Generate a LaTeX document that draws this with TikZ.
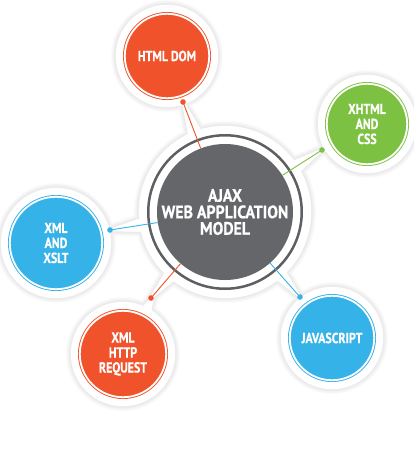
\documentclass[tikz,border=0pt]{standalone}
\usepackage{fontspec}
\usetikzlibrary{calc}
\newfontfamily\labelfont{PT Sans}[FakeStretch=0.82, BoldFeatures={FakeBold=0.6}]
\newfontfamily\hubfont{PT Sans}[FakeStretch=0.88, BoldFeatures={FakeBold=0.6}]

\definecolor{ajaxorange}{HTML}{F0532B}
\definecolor{ajaxgreen}{HTML}{7DC142}
\definecolor{ajaxblue}{HTML}{35B2E7}
\definecolor{ajaxgray}{HTML}{646669}
\definecolor{ajaxring}{HTML}{5D5F63}

\tikzset{
  sat/.style 2 args={circle, fill=#1, draw=#1, line width=0.9pt,
    double=white, double distance=1.8pt, minimum size=#2, inner sep=0pt,
    text=white, align=center,
    font=\labelfont\bfseries\fontsize{14.5}{15}\selectfont},
  hub/.style={circle, fill=ajaxgray, minimum size=136pt, inner sep=0pt,
    text=white, align=center,
    font=\hubfont\bfseries\fontsize{18}{16.5}\selectfont},
  wire/.style={line width=0.9pt},
}

% white plates behind the bubbles, with tapered tails along each connector
\newcommand\backdrop[1]{%
  \filldraw[#1] (C) circle (86);
  \filldraw[#1] (pHD) circle (51);
  \filldraw[#1] (pXC) circle (49);
  \filldraw[#1] (pXX) circle (55);
  \filldraw[#1] (pXH) circle (52);
  \filldraw[#1] (pJS) circle (51);
  \foreach \s/\d in {pHD/dHD, pXC/dXC, pXX/dXX, pXH/dXH, pJS/dJS}{
    \filldraw[#1] ($(C)!22pt!90:(\d)$) -- ($(\d)!-5pt!(C)$) -- ($(C)!22pt!-90:(\d)$) -- cycle;
    \filldraw[#1] ($(\s)!18pt!90:(\d)$) -- ($(\d)!6pt!(C)$) -- ($(\s)!18pt!-90:(\d)$) -- cycle;
  }%
}

\begin{document}
\begin{tikzpicture}[x=1pt, y=-1pt]
\useasboundingbox (0,0) rectangle (414,450);

% centres and connector dots
\coordinate (C)   at (225,212);
\coordinate (pHD) at (167,56);
\coordinate (pXC) at (367,124);
\coordinate (pXX) at (56,243);
\coordinate (pXH) at (123,354);
\coordinate (pJS) at (332,338);
\coordinate (dHD) at (183,102);
\coordinate (dXC) at (322,150);
\coordinate (dXX) at (110,230);
\coordinate (dXH) at (151,298);
\coordinate (dJS) at (300,297);

% soft drop shadow
\foreach \i in {1,...,8}{
  \begin{scope}[transparency group, opacity=0.01, shift={(1,4)}]
    \backdrop{black, line width=1.3*\i pt, line join=round}
  \end{scope}
}
\backdrop{white, draw=white, line width=0.5pt}

% central bubble
\node[hub] (ctr) at (C) {AJAX\\WEB APPLICATION\\MODEL};
\draw[ajaxring, line width=2.5pt] (ctr.center) circle (76.75);

% satellites
\node[sat={ajaxorange}{84.4pt}] (hd) at (pHD) {HTML DOM};
\node[sat={ajaxgreen}{80.4pt}]  (xc) at (pXC) {XHTML\\AND\\CSS};
\node[sat={ajaxblue}{92.4pt}]   (xx) at (pXX) {XML\\AND\\XSLT};
\node[sat={ajaxorange}{86.4pt}] (xh) at (pXH) {XML\\HTTP\\REQUEST};
\node[sat={ajaxblue}{84.4pt}]   (js) at (pJS) {JAVASCRIPT};

% connectors
\draw[wire, ajaxorange] (dHD) -- (ctr);
\draw[wire, ajaxgreen]  (dXC) -- (ctr);
\draw[wire, ajaxblue]   (dXX) -- (ctr);
\draw[wire, ajaxorange] (dXH) -- (ctr);
\draw[wire, ajaxblue]   (dJS) -- (ctr);
\fill[ajaxorange] (dHD) circle (2.8);
\fill[ajaxgreen]  (dXC) circle (2.8);
\fill[ajaxblue]   (dXX) circle (2.8);
\fill[ajaxorange] (dXH) circle (2.8);
\fill[ajaxblue]   (dJS) circle (2.8);
\end{tikzpicture}
\end{document}
